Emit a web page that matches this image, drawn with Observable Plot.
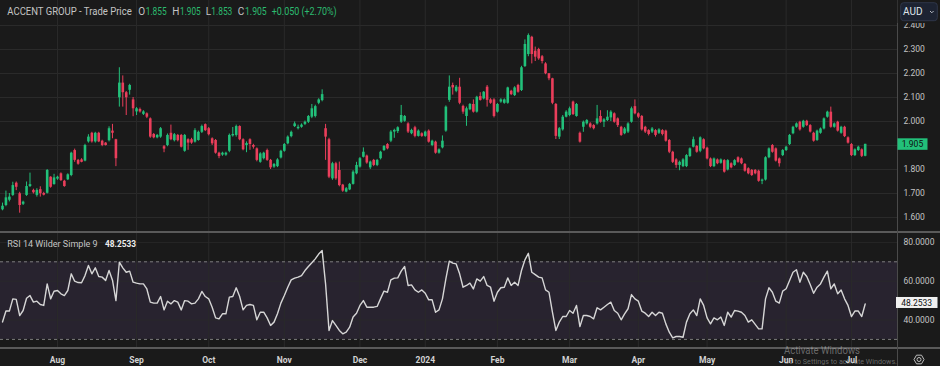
<!DOCTYPE html>
<html>
<head>
<meta charset="utf-8">
<script src="https://cdn.jsdelivr.net/npm/d3@7"></script>
<script src="https://cdn.jsdelivr.net/npm/@observablehq/plot@0.6"></script>
<style>
  html, body { margin: 0; padding: 0; background: #1a1a1a; }
  #root { position: relative; width: 940px; height: 366px; overflow: hidden; background: #1a1a1a; font-family: Roboto, "Liberation Sans", sans-serif; }
  #price, #rsi { position: absolute; left: 0; }
  #price { top: 0; }
  #rsi { top: 233px; }
  #root svg { display: block; }
  .hline { position: absolute; left: 0; width: 940px; height: 2px; background: #5a5a5a; }
  .vline { position: absolute; left: 896.5px; top: 0; width: 1px; height: 366px; background: #4a4a4a; }
  #overlay { position: absolute; left: 0; top: 0; }
</style>
</head>
<body>
<div id="root">
  <div id="price"></div>
  <div id="rsi"></div>
  <div class="hline" style="top:231px"></div>
  <div class="hline" style="top:347px"></div>
  <div class="vline"></div>
  <svg id="overlay" width="940" height="366"></svg>
</div>
<script>
// ---------------- DATA ----------------
const stockName = "ACCENT GROUP";
const seriesName = "Trade Price";
const currency = "AUD";
const firstDay = "2023-07-10";
const lastDay = "2024-07-05";
const exchangeHolidays = ["2023-12-25","2023-12-26","2024-01-01","2024-01-26","2024-03-29","2024-04-01","2024-04-25","2024-06-10"];
const monthLabels = ["Aug","Sep","Oct","Nov","Dec","2024","Feb","Mar","Apr","May","Jun","Jul"];
const priceTicks = [1.6,1.7,1.8,1.9,2.0,2.1,2.2,2.3,2.4];
const rsiTicks = [40,60,80];
const rsiBand = [{lo: 30, hi: 70}];
const rsiName = "RSI 14 Wilder Simple 9";

const opens = [
1.632,1.650,1.672,1.692,1.743,1.699,1.655,1.692,1.729,1.713,
1.692,1.716,1.700,1.701,1.768,1.737,1.760,1.782,1.751,1.757,
1.775,1.879,1.838,1.840,1.835,1.915,1.951,1.915,1.951,1.918,
1.910,1.920,1.960,1.924,2.099,2.160,2.120,2.130,2.090,2.040,
2.050,2.030,2.032,2.011,1.946,1.932,1.935,1.895,1.900,1.951,
1.920,1.942,1.942,1.876,1.924,1.924,1.914,1.921,1.955,1.987,
1.970,1.928,1.921,1.868,1.860,1.860,1.876,1.940,1.942,1.979,
1.924,1.900,1.924,1.900,1.886,1.830,1.845,1.879,1.838,1.810,
1.812,1.848,1.876,1.907,1.937,1.979,1.970,1.976,1.988,1.997,
2.018,2.021,2.076,2.087,1.970,1.924,1.761,1.824,1.796,1.735,
1.706,1.715,1.738,1.782,1.810,1.851,1.856,1.807,1.838,1.817,
1.845,1.879,1.904,1.918,1.956,1.958,1.997,2.001,1.990,1.949,
1.974,1.938,1.949,1.938,1.960,1.900,1.914,1.868,1.890,1.960,
2.088,2.150,2.126,2.143,2.063,2.021,2.049,2.071,2.039,2.104,
2.094,2.143,2.090,2.090,2.039,2.081,2.076,2.076,2.126,2.108,
2.150,2.129,2.229,2.279,2.351,2.293,2.300,2.270,2.240,2.199,
2.178,2.071,1.935,1.965,2.018,2.025,2.081,2.021,1.951,1.976,
1.990,1.990,1.983,1.990,2.021,1.997,2.004,2.015,2.032,2.011,
1.976,1.949,1.956,1.997,2.062,2.032,2.021,1.976,1.962,1.956,
1.962,1.951,1.962,1.960,1.921,1.872,1.840,1.817,1.812,1.812,
1.854,1.893,1.896,1.876,1.924,1.889,1.844,1.812,1.840,1.826,
1.837,1.798,1.824,1.817,1.849,1.844,1.821,1.803,1.796,1.796,
1.793,1.751,1.756,1.849,1.900,1.886,1.844,1.858,1.879,1.904,
1.949,1.976,1.997,1.976,2.001,1.983,1.951,1.921,1.951,1.969,
2.018,2.039,1.976,1.997,1.951,1.976,1.932,1.904,1.858,1.879,
1.882,1.855];

const highs = [
1.660,1.710,1.700,1.747,1.748,1.705,1.668,1.748,1.785,1.718,
1.720,1.728,1.705,1.800,1.770,1.780,1.772,1.786,1.755,1.782,
1.872,1.885,1.842,1.845,1.905,1.945,1.955,1.955,1.955,1.922,
1.912,1.978,1.988,1.926,2.224,2.190,2.125,2.155,2.100,2.058,
2.056,2.045,2.036,2.015,1.950,1.946,1.975,1.900,1.948,1.985,
1.950,1.946,1.946,1.946,1.928,1.930,1.970,1.960,1.985,1.990,
1.975,1.932,1.925,1.872,1.872,1.872,1.948,1.975,1.985,1.982,
1.928,1.915,1.928,1.905,1.890,1.870,1.872,1.885,1.842,1.825,
1.845,1.880,1.908,1.940,1.960,1.998,1.985,1.990,2.002,2.025,
2.071,2.068,2.095,2.132,1.988,1.930,1.830,1.830,1.831,1.738,
1.725,1.742,1.795,1.830,1.850,1.890,1.860,1.835,1.842,1.842,
1.876,1.900,1.908,1.962,1.968,1.978,2.067,2.025,1.995,1.968,
1.980,1.965,1.953,1.960,1.965,1.922,1.918,1.886,1.940,2.065,
2.190,2.160,2.150,2.180,2.068,2.060,2.075,2.090,2.105,2.120,
2.125,2.150,2.095,2.095,2.075,2.095,2.094,2.143,2.130,2.145,
2.155,2.230,2.340,2.365,2.355,2.310,2.305,2.275,2.245,2.200,
2.180,2.075,1.975,2.025,2.045,2.060,2.085,2.075,1.956,2.002,
2.008,1.995,1.987,2.067,2.045,2.012,2.045,2.045,2.036,2.015,
1.980,1.975,1.995,2.060,2.090,2.036,2.025,1.980,1.966,1.975,
1.966,1.970,1.966,1.964,1.925,1.876,1.845,1.835,1.845,1.862,
1.890,1.935,1.900,1.936,1.928,1.893,1.848,1.848,1.844,1.844,
1.841,1.841,1.828,1.841,1.853,1.848,1.825,1.807,1.800,1.800,
1.797,1.760,1.853,1.890,1.904,1.890,1.848,1.883,1.897,1.946,
1.980,1.994,2.001,2.005,2.005,1.987,1.955,1.964,1.973,2.015,
2.043,2.060,1.994,2.001,1.980,1.980,1.936,1.908,1.886,1.897,
1.886,1.905];

const lows = [
1.628,1.645,1.665,1.688,1.712,1.618,1.650,1.688,1.725,1.698,
1.685,1.685,1.690,1.698,1.722,1.735,1.755,1.750,1.726,1.754,
1.770,1.830,1.818,1.828,1.832,1.910,1.910,1.910,1.912,1.895,
1.898,1.915,1.928,1.812,2.060,2.060,2.025,2.110,2.020,2.025,
2.035,2.025,2.012,1.930,1.928,1.928,1.930,1.870,1.895,1.920,
1.915,1.915,1.890,1.872,1.880,1.905,1.910,1.918,1.950,1.958,
1.940,1.900,1.864,1.845,1.855,1.855,1.870,1.935,1.935,1.920,
1.878,1.870,1.880,1.885,1.832,1.826,1.840,1.834,1.800,1.805,
1.808,1.844,1.872,1.903,1.932,1.975,1.965,1.972,1.983,1.992,
2.012,2.015,2.070,2.082,1.838,1.762,1.755,1.755,1.728,1.705,
1.703,1.712,1.735,1.778,1.806,1.848,1.822,1.800,1.812,1.812,
1.840,1.875,1.882,1.912,1.930,1.950,1.992,1.997,1.950,1.945,
1.932,1.935,1.934,1.934,1.910,1.895,1.864,1.864,1.886,1.955,
2.080,2.110,2.120,2.070,2.030,1.980,2.045,2.035,2.035,2.085,
2.090,2.060,2.072,2.015,2.035,2.076,2.072,2.072,2.108,2.104,
2.118,2.125,2.225,2.270,2.240,2.250,2.255,2.240,2.195,2.170,
2.070,1.925,1.925,1.960,2.015,2.020,2.025,2.018,1.910,1.955,
1.985,1.970,1.965,1.985,1.993,1.975,2.000,2.000,1.993,1.975,
1.938,1.945,1.950,1.993,2.028,2.012,1.960,1.950,1.940,1.950,
1.935,1.946,1.940,1.914,1.866,1.825,1.805,1.795,1.808,1.808,
1.850,1.890,1.868,1.870,1.882,1.840,1.808,1.808,1.820,1.822,
1.785,1.794,1.803,1.813,1.826,1.820,1.789,1.778,1.771,1.778,
1.747,1.737,1.752,1.845,1.868,1.831,1.810,1.854,1.875,1.900,
1.945,1.972,1.960,1.972,1.979,1.952,1.914,1.917,1.947,1.965,
2.014,1.972,1.972,1.956,1.947,1.933,1.906,1.854,1.854,1.875,
1.850,1.853];

const closes = [
1.647,1.682,1.685,1.733,1.726,1.650,1.664,1.729,1.737,1.703,
1.713,1.699,1.693,1.796,1.726,1.765,1.768,1.754,1.729,1.778,
1.868,1.838,1.822,1.830,1.900,1.935,1.915,1.951,1.915,1.900,
1.900,1.970,1.951,1.845,2.160,2.120,2.099,2.150,2.053,2.053,
2.040,2.040,2.018,1.935,1.932,1.942,1.970,1.885,1.942,1.924,
1.945,1.920,1.893,1.942,1.910,1.910,1.962,1.955,1.979,1.962,
1.945,1.907,1.868,1.854,1.868,1.868,1.942,1.946,1.979,1.924,
1.882,1.908,1.904,1.893,1.838,1.865,1.868,1.838,1.807,1.821,
1.840,1.876,1.904,1.935,1.955,1.990,1.976,1.985,1.997,2.021,
2.053,2.062,2.090,2.112,1.935,1.768,1.824,1.761,1.733,1.710,
1.720,1.738,1.789,1.817,1.845,1.872,1.827,1.831,1.817,1.838,
1.872,1.896,1.886,1.956,1.963,1.974,2.025,2.021,1.956,1.963,
1.938,1.960,1.938,1.956,1.914,1.918,1.868,1.882,1.918,2.060,
2.143,2.140,2.143,2.076,2.039,2.053,2.071,2.039,2.101,2.088,
2.122,2.088,2.076,2.021,2.071,2.090,2.090,2.140,2.112,2.140,
2.122,2.224,2.321,2.358,2.279,2.268,2.261,2.250,2.199,2.178,
2.076,1.938,1.970,2.018,2.039,2.053,2.029,2.071,1.914,1.997,
2.004,1.976,1.970,2.011,1.997,2.007,2.018,2.039,1.997,1.983,
1.942,1.969,1.990,2.053,2.032,2.018,1.965,1.956,1.946,1.969,
1.942,1.965,1.946,1.918,1.872,1.830,1.817,1.830,1.840,1.858,
1.886,1.924,1.872,1.932,1.886,1.844,1.812,1.844,1.824,1.840,
1.789,1.837,1.807,1.837,1.830,1.824,1.793,1.782,1.775,1.782,
1.751,1.756,1.849,1.886,1.872,1.835,1.824,1.879,1.893,1.942,
1.976,1.990,1.965,2.001,1.983,1.956,1.918,1.960,1.969,2.011,
2.039,1.976,1.990,1.960,1.976,1.937,1.910,1.858,1.882,1.893,
1.855,1.905];

const rsiValues = [
39.0,44.6,44.6,50.9,50.6,42.3,44.9,51.2,52.6,49.2,
49.7,48.0,47.5,58.6,50.9,54.8,55.2,53.5,52.6,55.2,
63.8,60.0,59.3,59.2,62.9,68.1,63.8,66.9,62.4,62.1,
60.4,65.5,60.5,50.0,69.8,66.9,64.6,65.2,59.5,59.0,
58.6,58.6,56.0,49.2,48.7,48.7,52.1,45.2,49.7,48.3,
50.0,49.2,45.2,50.0,49.7,48.3,48.7,50.9,54.7,52.1,
50.9,46.6,41.1,40.6,43.2,43.2,51.8,52.1,56.6,52.1,
45.2,47.5,48.0,47.5,40.1,44.0,44.0,41.1,37.2,38.9,
43.2,48.7,52.6,56.9,60.7,61.6,62.1,62.9,65.5,67.6,
69.5,71.5,74.0,75.8,58.6,34.6,39.7,37.2,34.6,32.9,
33.7,36.3,41.5,43.5,47.5,50.0,46.6,46.6,46.6,47.0,
51.0,54.9,54.3,60.7,61.6,61.7,65.2,67.6,57.8,58.1,
55.5,54.3,55.5,53.8,50.4,50.4,44.0,45.2,50.9,61.2,
70.3,69.3,68.9,63.8,56.9,57.8,59.0,56.0,61.2,60.0,
62.4,57.8,56.9,49.7,54.3,56.6,56.9,61.7,57.8,59.5,
57.8,65.5,71.0,74.4,64.6,63.4,62.1,61.7,55.5,54.3,
44.0,34.6,38.9,41.8,41.8,44.9,43.5,47.5,36.6,42.3,
42.3,41.8,40.6,46.3,45.2,46.6,48.0,49.2,44.9,43.5,
40.1,43.2,45.8,53.1,50.9,49.7,44.6,43.5,41.8,44.0,
42.3,44.0,43.5,38.0,33.7,30.8,31.5,31.5,31.1,38.9,
43.2,45.2,42.3,50.9,47.5,41.1,38.0,41.1,40.1,41.5,
37.2,44.0,41.5,44.9,44.6,44.0,42.3,38.9,40.1,37.7,
35.4,35.4,50.9,56.6,54.3,49.7,48.7,54.9,56.1,60.4,
64.6,65.9,59.5,64.6,62.4,58.3,53.8,56.9,58.6,62.1,
65.2,56.1,58.6,53.5,55.5,50.9,47.5,41.8,44.6,44.6,
41.8,48.2533];

// ---------------- BUILD ----------------
const GREEN = "#22c07a", RED = "#ea3e5b", GRID = "#2a2a2a", TXT = "#c4c4c4", HGREEN = "#2cbb70", BG = "#1a1a1a";
const dayKey = d3.utcFormat("%Y-%m-%d");
const days = d3.utcDays(new Date(firstDay), d3.utcDay.offset(new Date(lastDay), 1))
  .filter(d => d.getUTCDay() % 6 !== 0 && !exchangeHolidays.includes(dayKey(d)));
const monthIdx = days.map((d, i) => (i > 0 && d.getUTCMonth() !== days[i - 1].getUTCMonth()) ? i : null).filter(v => v !== null);

const data = opens.map((o, i) => ({i, date: days[i], o, h: highs[i], l: lows[i], c: closes[i], r: rsiValues[i]}));
const up = data.filter(d => d.c >= d.o);
const down = data.filter(d => d.c < d.o);

const pitch = 3.437, firstX = 2, plotRight = 897;
const xDomain = [-firstX / pitch, (plotRight - firstX) / pitch];

const price = Plot.plot({
  width: 940, height: 231,
  marginLeft: 0, marginRight: 43, marginTop: 0, marginBottom: 0,
  style: {background: "transparent", color: TXT, fontFamily: "Roboto, sans-serif", fontSize: "8.5px"},
  x: {domain: xDomain, axis: null},
  y: {domain: [1.5417, 2.5042], axis: "right", ticks: priceTicks, tickFormat: d3.format(".3f"), tickSize: 0, tickPadding: 6, label: null},
  marks: [
    Plot.ruleY(priceTicks, {stroke: GRID}),
    Plot.ruleX(monthIdx, {stroke: GRID}),
    Plot.ruleX(up, {x: "i", y1: "l", y2: "h", stroke: GREEN, strokeWidth: 1}),
    Plot.ruleX(down, {x: "i", y1: "l", y2: "h", stroke: RED, strokeWidth: 1}),
    Plot.ruleX(up, {x: "i", y1: "o", y2: "c", stroke: GREEN, strokeWidth: 2.6}),
    Plot.ruleX(down, {x: "i", y1: "o", y2: "c", stroke: RED, strokeWidth: 2.6})
  ]
});
document.getElementById("price").appendChild(price);

const rsiChart = Plot.plot({
  width: 940, height: 133,
  marginLeft: 0, marginRight: 43, marginTop: 0, marginBottom: 19,
  style: {background: "transparent", color: TXT, fontFamily: "Roboto, sans-serif", fontSize: "8.5px"},
  x: {domain: xDomain, ticks: monthIdx, tickFormat: i => monthLabels[monthIdx.indexOf(i)], tickSize: 0, tickPadding: 9, label: null},
  y: {domain: [25.82, 84.59], axis: "right", ticks: rsiTicks, tickFormat: d3.format(".4f"), tickSize: 0, tickPadding: 6, label: null},
  marks: [
    Plot.rect(rsiBand, {x1: () => xDomain[0], x2: () => xDomain[1], y1: "lo", y2: "hi", fill: "#28232f"}),
    Plot.ruleY(rsiTicks, {stroke: GRID, strokeOpacity: 0.8}),
    Plot.ruleX(monthIdx, {stroke: GRID}),
    Plot.ruleY(rsiBand.flatMap(b => [b.lo, b.hi]), {stroke: "#7d7d7d", strokeDasharray: "3,3"}),
    Plot.line(data, {x: "i", y: "r", stroke: "#d6d6d6", strokeWidth: 1.4})
  ]
});
document.getElementById("rsi").appendChild(rsiChart);
d3.select(rsiChart).selectAll('[aria-label="x-axis tick label"] text, [aria-label="x-axis"] text')
  .attr("font-weight", "bold").attr("fill", "#d2d2d2");

// ---------------- OVERLAY TEXT ----------------
const ov = d3.select("#overlay").attr("font-family", "Roboto, sans-serif");
const f3 = d3.format(".3f");
const last = data[data.length - 1], prev = data[data.length - 2];
const chg = last.c - prev.c;
const header = [
  {t: `${stockName} - ${seriesName}`, x: 7.3, len: 124.4, fill: TXT},
  {t: "O", x: 138.3, fill: TXT}, {t: f3(last.o), x: 145.7, len: 21, fill: HGREEN},
  {t: "H", x: 172.3, fill: TXT}, {t: f3(last.h), x: 180, len: 20.7, fill: HGREEN},
  {t: "L", x: 205.7, fill: TXT}, {t: f3(last.l), x: 211.3, len: 21, fill: HGREEN},
  {t: "C", x: 237.7, fill: TXT}, {t: f3(last.c), x: 245, len: 21.7, fill: HGREEN},
  {t: `${d3.format("+.3f")(chg)} (${d3.format("+.2%")(chg / prev.c)})`, x: 271.7, len: 65, fill: HGREEN}
];
header.forEach(h => {
  const t = ov.append("text").attr("x", h.x).attr("y", 15).attr("font-size", 10).attr("fill", h.fill).text(h.t);
  if (h.len) t.attr("textLength", h.len).attr("lengthAdjust", "spacingAndGlyphs");
});

// RSI legend
ov.append("text").attr("x", 7.3).attr("y", 247.3).attr("font-size", 9).attr("fill", TXT)
  .attr("textLength", 90.4).attr("lengthAdjust", "spacingAndGlyphs").text(rsiName);
ov.append("text").attr("x", 105).attr("y", 247.3).attr("font-size", 9).attr("font-weight", "bold").attr("fill", "#ececec")
  .attr("textLength", 31).attr("lengthAdjust", "spacingAndGlyphs").text(d3.format(".4f")(last.r));

// toolbar strip over the price scale + currency button
ov.append("rect").attr("x", 897.5).attr("y", 0).attr("width", 42.5).attr("height", 23).attr("fill", BG);
ov.append("rect").attr("x", 900.7).attr("y", 2.7).attr("width", 36.6).attr("height", 18).attr("rx", 3)
  .attr("fill", "#1d2332").attr("stroke", "#2f3649");
ov.append("text").attr("x", 903).attr("y", 15.3).attr("font-size", 10).attr("fill", "#dfe3ea").text(currency);
ov.append("path").attr("d", "M930 11 l1.8 1.8 l1.8 -1.8").attr("fill", "none").attr("stroke", "#b8bcc6").attr("stroke-width", 1);

// last price tag
const py = price.scale("y").apply(last.c);
ov.append("rect").attr("x", 897.5).attr("y", py - 5.5).attr("width", 30).attr("height", 11.5).attr("fill", GREEN);
ov.append("text").attr("x", 912.5).attr("y", py + 3.2).attr("text-anchor", "middle").attr("font-size", 8.5).attr("fill", "#0f0f0f").text(f3(last.c));

// last RSI tag
const ry = 233 + rsiChart.scale("y").apply(last.r);
ov.append("rect").attr("x", 896).attr("y", ry - 6.5).attr("width", 41.5).attr("height", 11).attr("fill", "#f0f0f0");
ov.append("text").attr("x", 916.7).attr("y", ry + 2.6).attr("text-anchor", "middle").attr("font-size", 8.5).attr("fill", "#111").text(d3.format(".4f")(last.r));

// settings icon
const gx = 919, gy = 359.5, gr = 5;
ov.append("path")
  .attr("d", d3.range(6).map((k, j) => `${j ? "L" : "M"}${gx + gr * Math.cos(Math.PI / 3 * k)},${gy + gr * Math.sin(Math.PI / 3 * k)}`).join("") + "Z")
  .attr("fill", "none").attr("stroke", "#bdbdbd").attr("stroke-width", 1);
ov.append("circle").attr("cx", gx).attr("cy", gy).attr("r", 2).attr("fill", "none").attr("stroke", "#bdbdbd").attr("stroke-width", 1);

// OS watermark (semi-transparent, as in the screenshot)
ov.append("text").attr("x", 784).attr("y", 353.7).attr("font-size", 10.5).attr("fill", "rgba(205,205,205,0.45)")
  .attr("textLength", 76).attr("lengthAdjust", "spacingAndGlyphs").text("Activate Windows");
ov.append("text").attr("x", 784).attr("y", 364.3).attr("font-size", 8).attr("fill", "rgba(205,205,205,0.45)")
  .attr("textLength", 113).attr("lengthAdjust", "spacingAndGlyphs").text("Go to Settings to activate Windows.");
</script>
</body>
</html>
